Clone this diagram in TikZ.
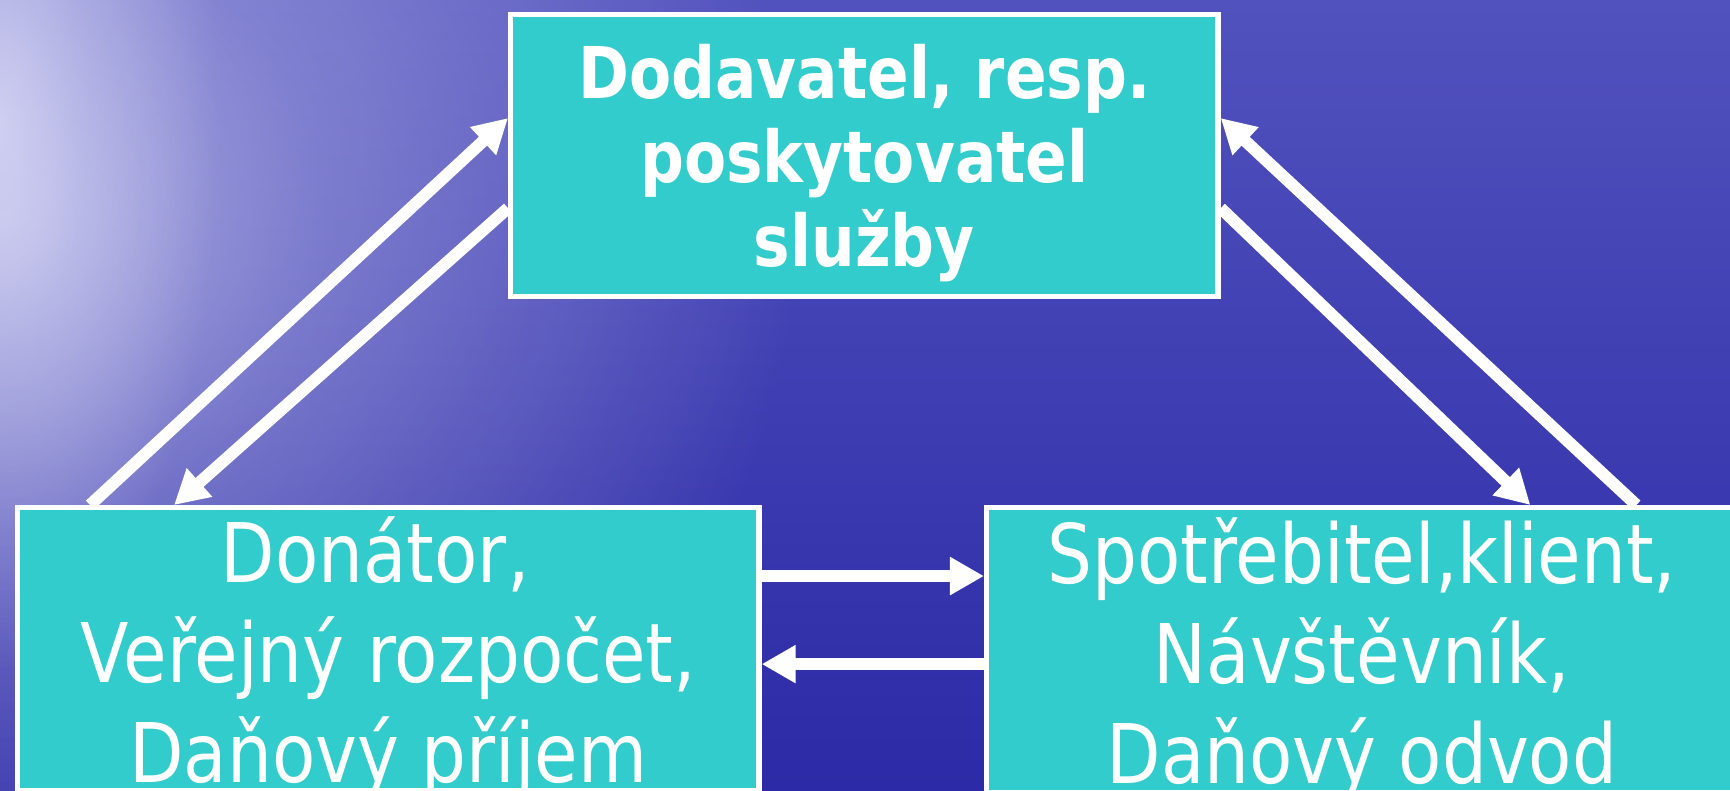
\documentclass[tikz,border=0pt]{standalone}
\usepackage{fontspec}
\setmainfont{DejaVu Sans}
\newfontfamily\boxfont[FakeStretch=0.86]{DejaVu Sans}
\usetikzlibrary{positioning,arrows.meta,fadings}
\definecolor{bgtop}{RGB}{82,82,190}
\definecolor{bgbottom}{RGB}{44,42,166}
\definecolor{bglight}{RGB}{222,222,248}
\definecolor{tealbox}{RGB}{51,204,204}
\pgfdeclareradialshading{glowmask}{\pgfpointorigin}{color(0bp)=(pgftransparent!0); color(10bp)=(pgftransparent!50); color(25bp)=(pgftransparent!100); color(50bp)=(pgftransparent!100)}
\pgfdeclarefading{glowfade}{\pgfuseshading{glowmask}}
\tikzset{
        box/.style={draw=white, line width=1.5pt, fill=tealbox, text=white, align=center, inner sep=0pt, anchor=north west}, % the three boxes
        boldtext/.style={font=\boxfont\fontsize{20.3pt}{23.9pt}\selectfont\bfseries}, % top box
        plaintext/.style={font=\boxfont\fontsize{23.4pt}{28.4pt}\selectfont}, % bottom boxes
        flow/.style={draw=white, line width=0.12cm, -{Triangle[length=0.34cm,width=0.36cm]}}, % white arrows
        glow/.style={fill=bglight, path fading=glowfade, fit fading=true}, % light on the water
}

\begin{document}
\begin{tikzpicture}[x=0.01cm,y=-0.01cm]
\useasboundingbox (0,0) rectangle (1730,790);
\shade[top color=bgtop, bottom color=bgbottom] (0,0) rectangle (1730,790);
\begin{scope}
\clip (0,0) rectangle (1730,790);
\fill[glow, opacity=0.7] (0,220) ellipse (8cm and 7.5cm);
\fill[glow, opacity=0.75] (0,120) ellipse (2.2cm and 5.5cm);
\end{scope}

\node[box, boldtext, minimum width=7.07cm, minimum height=2.82cm, text depth=0pt] (supplier) at (508,12)
  {Dodavatel, resp.\\ poskytovatel\\ služby};
\node[box, plaintext, minimum width=7.41cm, minimum height=2.83cm, text depth=0pt] (donor) at (15,505)
  {Donátor,\hspace*{0.32em}\\ Veřejný rozpočet,\hspace*{0.32em}\\ Daňový příjem};
\node[box, plaintext, minimum width=7.50cm, minimum height=2.85cm, text depth=0pt] (client) at (984,505)
  {Spotřebitel,klient,\\ Návštěvník,\\ Daňový odvod};

% left pair
\draw[flow] ([xshift=0.75cm]donor.north west) -- ([yshift=-1.06cm]supplier.north west);
\draw[flow] ([yshift=-1.96cm]supplier.north west) -- ([xshift=1.59cm]donor.north west);
% right pair
\draw[flow] ([xshift=6.52cm]client.north west) -- ([yshift=-1.06cm]supplier.north east);
\draw[flow] ([yshift=-1.96cm]supplier.north east) -- ([xshift=5.46cm]client.north west);
% bottom pair
\draw[flow] ([yshift=-0.71cm]donor.north east) -- ([yshift=-0.71cm]client.north west);
\draw[flow] ([yshift=-1.59cm]client.north west) -- ([yshift=-1.59cm]donor.north east);
\end{tikzpicture}
\end{document}
